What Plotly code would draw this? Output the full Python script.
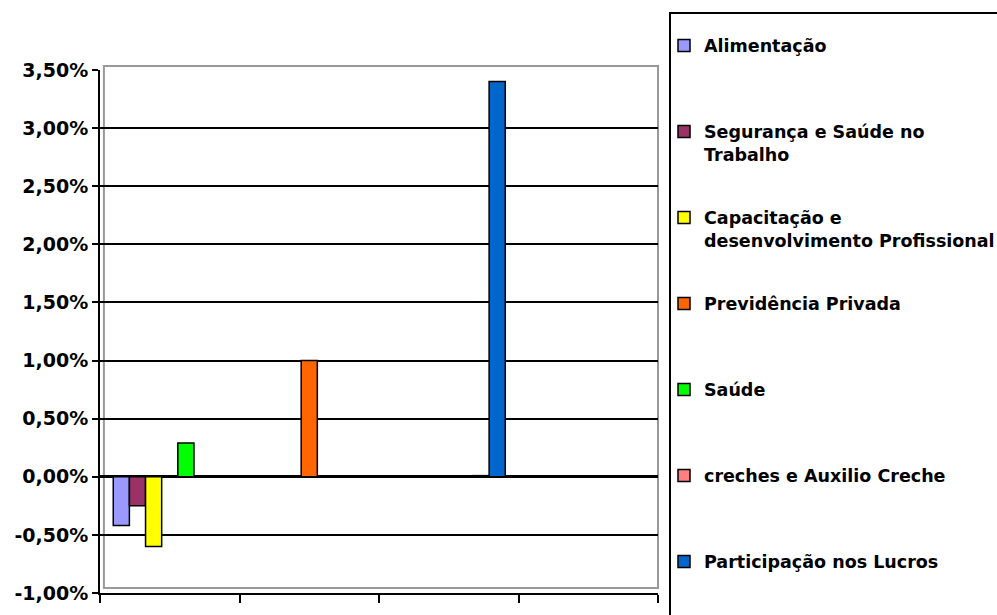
import plotly.graph_objects as go

categories = [0, 1, 2, 3]
series_names = [
    "Alimentação",
    "Segurança e Saúde no<br>Trabalho",
    "Capacitação e<br>desenvolvimento Profissional",
    "Previdência Privada",
    "Saúde",
    "creches e Auxilio Creche",
    "Participação nos Lucros",
]
alimentacao = [-0.42, 0, 0, 0]
seguranca = [-0.25, 0, 0, 0]
capacitacao = [-0.60, 0, 0, 0]
previdencia = [0, 1.00, 0, 0]
saude = [0.29, 0, 0, 0]
creches = [0, 0, 0.01, 0]
participacao = [0, 0, 3.40, 0]

colors = [
    ["#9999FF"] * 4,
    ["#993366"] * 4,
    ["#FFFF00"] * 4,
    ["#FF6600"] * 4,
    ["#00FF00"] * 4,
    ["#FF8080", "#FF8080", "#33CCCC", "#FF8080"],
    ["#0066CC"] * 4,
]
values = [alimentacao, seguranca, capacitacao, previdencia, saude, creches, participacao]

y_tickvals = [-1.0, -0.5, 0.0, 0.5, 1.0, 1.5, 2.0, 2.5, 3.0, 3.5]
y_ticktext = ["-1,00%", "-0,50%", "0,00%", "0,50%", "1,00%", "1,50%",
              "2,00%", "2,50%", "3,00%", "3,50%"]

fig = go.Figure()
n = len(series_names)
for i, (name, vals) in enumerate(zip(series_names, values)):
    label = name if ("<br>" in name or i == n - 1) else name + "<br>&nbsp;"
    fig.add_trace(go.Bar(
        x=categories, y=vals, name=label,
        legendgroup=f"g{i}",
        marker=dict(color=colors[i], line=dict(color="black", width=1.5)),
    ))

fnt = dict(family="DejaVu Sans", size=17.5, color="black", weight="bold")

fig.update_layout(
    width=997, height=615,
    margin=dict(l=100, r=339, t=70, b=22, autoexpand=False),
    paper_bgcolor="white", plot_bgcolor="white",
    barmode="group", bargap=0.19, bargroupgap=0,
    font=fnt,
    showlegend=True,
    legend=dict(
        xref="container", yref="container",
        x=0.666, xanchor="left", y=0.955, yanchor="top",
        traceorder="grouped", tracegroupgap=37.5, valign="top",
        font=fnt, borderwidth=0, bgcolor="rgba(0,0,0,0)",
        maxheight=615,
    ),
    xaxis=dict(
        range=[-0.5, 3.5], tickvals=[-0.5, 0.5, 1.5, 2.5, 3.5],
        showticklabels=False, ticks="outside", ticklen=8, tickwidth=2,
        tickcolor="black", showline=True, linecolor="black", linewidth=2,
        showgrid=False, zeroline=False, fixedrange=True,
    ),
    yaxis=dict(
        range=[-1.0, 3.5], tickvals=y_tickvals, ticktext=y_ticktext,
        ticks="outside", ticklen=6, tickwidth=2, tickcolor="black",
        showline=True, linecolor="black", linewidth=2,
        showgrid=True, gridcolor="black", gridwidth=2,
        zeroline=True, zerolinecolor="black", zerolinewidth=3,
        tickfont=dict(family="DejaVu Sans", size=19, color="black", weight="bold"),
        fixedrange=True,
    ),
    shapes=[
        dict(type="rect", xref="paper", yref="paper",
             x0=0.007, x1=1.0, y0=0.0096, y1=1.0076,
             line=dict(color="#999999", width=2), fillcolor="rgba(0,0,0,0)",
             layer="below"),
        dict(type="rect", xref="paper", yref="paper",
             x0=1.0215, x1=1.63, y0=-0.06, y1=1.109,
             line=dict(color="black", width=2), fillcolor="rgba(0,0,0,0)"),
    ],
)

fig.write_html("out.html")
